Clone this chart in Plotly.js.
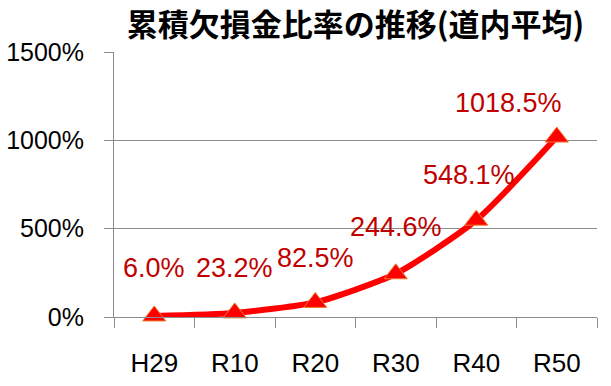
<!DOCTYPE html>
<html>
<head>
<meta charset="utf-8">
<script src="https://cdn.plot.ly/plotly-3.0.1.min.js"></script>
<style>html,body{margin:0;padding:0;background:#fff;}#chart{width:611px;height:386px;}</style>
</head>
<body>
<div id="chart"></div>
<script>
const categories = ["H29", "R10", "R20", "R30", "R40", "R50"];
const ratioValues = [6.0, 23.2, 82.5, 244.6, 548.1, 1018.5];
const valueLabels = ["6.0%", "23.2%", "82.5%", "244.6%", "548.1%", "1018.5%"];
const yTickValues = [0, 500, 1000, 1500];
const yTickLabels = ["0%", "500%", "1000%", "1500%"];
const chartTitle = "累積欠損金比率の推移(道内平均)";

// label placement offsets (px) relative to each point (layout only)
const labelDx = [0, 0, 0, 0, -7, -48];
const labelDy = [48, 45, 44, 47, 45, 34];

const trace = {
  type: "scatter",
  mode: "lines+markers",
  x: categories,
  y: ratioValues,
  line: {color: "#FF0000", width: 6, shape: "spline", smoothing: 0.6},
  marker: {symbol: "triangle-up", size: 20, color: "#FF0000", line: {color: "#ED7D31", width: 1}},
  hoverinfo: "skip",
  cliponaxis: false
};

const annotations = categories.map((c, i) => ({
  x: c, y: ratioValues[i], xref: "x", yref: "y",
  text: valueLabels[i], showarrow: false,
  xanchor: "center", yanchor: "middle",
  xshift: labelDx[i], yshift: labelDy[i],
  font: {family: "Liberation Sans, Arial, sans-serif", size: 27, color: "#C00000"}
}));

const layout = {
  width: 611, height: 386,
  margin: {l: 114, r: 14, t: 52, b: 69},
  paper_bgcolor: "#ffffff", plot_bgcolor: "#ffffff",
  showlegend: false,
  title: {
    text: chartTitle,
    font: {family: "Noto Sans CJK JP", size: 31, color: "#000000", weight: "bold"},
    xref: "paper", x: 0.5, xanchor: "center",
    yref: "container", y: 1 - 25/386, yanchor: "middle"
  },
  xaxis: {
    type: "category",
    range: [-0.5, 5.5],
    tickson: "boundaries",
    ticks: "outside", ticklen: 10, tickcolor: "#8C8C8C", tickwidth: 1,
    showline: true, linecolor: "#8C8C8C", linewidth: 1,
    showgrid: false, zeroline: false,
    tickfont: {family: "Liberation Sans, Arial, sans-serif", size: 26, color: "#000000"},
    ticklabelstandoff: 23,
    fixedrange: true
  },
  yaxis: {
    range: [0, 1500],
    tickvals: yTickValues, ticktext: yTickLabels,
    ticks: "outside", ticklen: 9, tickcolor: "#8C8C8C", tickwidth: 1,
    showline: true, linecolor: "#8C8C8C", linewidth: 1,
    showgrid: true, gridcolor: "#8C8C8C", gridwidth: 1,
    zeroline: false,
    tickfont: {family: "Liberation Sans, Arial, sans-serif", size: 25, color: "#000000"},
    ticklabelstandoff: 15,
    fixedrange: true
  },
  annotations: annotations
};

Plotly.newPlot("chart", [trace], layout, {displayModeBar: false, staticPlot: true});
</script>
</body>
</html>
